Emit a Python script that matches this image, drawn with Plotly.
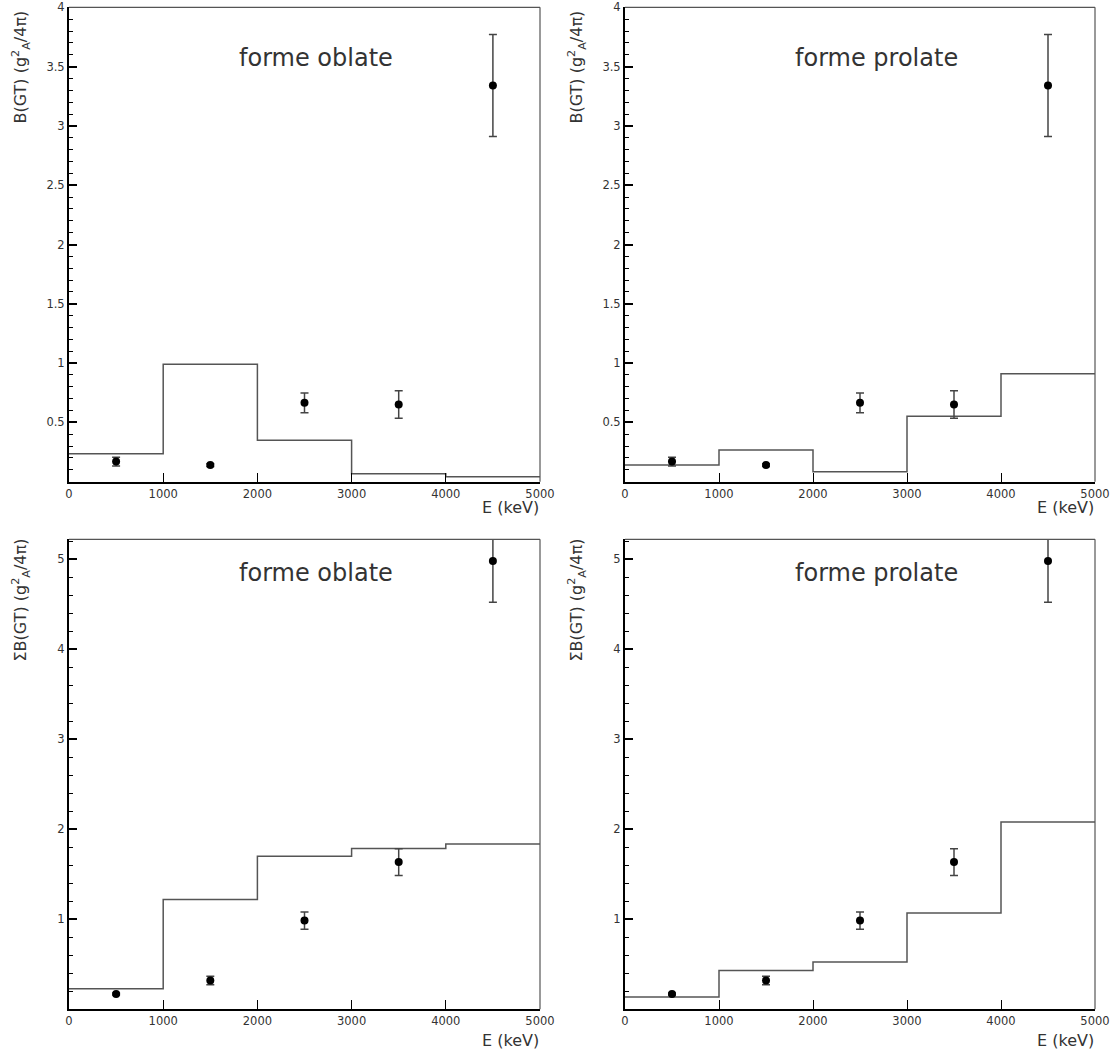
import plotly.graph_objects as go

# ---------------- data ----------------
bin_edges = [0, 1000, 2000, 3000, 4000, 5000]
e_points = [500, 1500, 2500, 3500, 4500]

# B(GT) experimental
bgt_exp = [0.17, 0.14, 0.665, 0.65, 3.34]
bgt_err = [0.037, 0.012, 0.083, 0.116, 0.43]
# Sum B(GT) experimental
sbgt_exp = [0.17, 0.32, 0.985, 1.635, 4.98]
sbgt_err = [0.012, 0.048, 0.095, 0.148, 0.46]

# theory histograms (per bin)
bgt_oblate = [0.235, 0.99, 0.35, 0.068, 0.042]
bgt_prolate = [0.14, 0.267, 0.084, 0.552, 0.91]
sbgt_oblate = [0.229, 1.22, 1.70, 1.785, 1.837]
sbgt_prolate = [0.137, 0.43, 0.526, 1.07, 2.08]

titles = ["forme oblate", "forme prolate", "forme oblate", "forme prolate"]
ytitles = ["B(GT) (g<sup>2</sup><sub>A</sub>/4π)", "B(GT) (g<sup>2</sup><sub>A</sub>/4π)",
           "ΣB(GT) (g<sup>2</sup><sub>A</sub>/4π)", "ΣB(GT) (g<sup>2</sup><sub>A</sub>/4π)"]
x_ticks = [0, 1000, 2000, 3000, 4000, 5000]
y_ticks_top = [0.5, 1, 1.5, 2, 2.5, 3, 3.5, 4]
y_ticks_bot = [1, 2, 3, 4, 5]

# ---------------- layout geometry ----------------
W, H = 1114, 1053
FONT = "DejaVu Sans"
TXT = "#333333"

def px_x(p):
    return p / W

def px_y(p):
    return 1 - p / H

xdoms = [[px_x(69), px_x(540)], [px_x(625), px_x(1095)]]
ydoms = [[px_y(481.7), px_y(7.3)], [px_y(1009.3), px_y(539.3)]]

panels = [
    dict(col=0, row=0, hist=bgt_oblate, pts=bgt_exp, err=bgt_err, yr=[0, 4], yt=y_ticks_top, minor=0.1),
    dict(col=1, row=0, hist=bgt_prolate, pts=bgt_exp, err=bgt_err, yr=[0, 4], yt=y_ticks_top, minor=0.1),
    dict(col=0, row=1, hist=sbgt_oblate, pts=sbgt_exp, err=sbgt_err, yr=[0, 5.22], yt=y_ticks_bot, minor=0.2),
    dict(col=1, row=1, hist=sbgt_prolate, pts=sbgt_exp, err=sbgt_err, yr=[0, 5.22], yt=y_ticks_bot, minor=0.2),
]

fig = go.Figure()
layout = dict(
    width=W, height=H,
    margin=dict(l=0, r=0, t=0, b=0, autoexpand=False),
    paper_bgcolor="white", plot_bgcolor="white",
    showlegend=False,
    font=dict(family=FONT, color=TXT, size=11),
)
annotations = []
shapes = []

for i, p in enumerate(panels):
    n = i + 1
    xa = "x" if n == 1 else f"x{n}"
    ya = "y" if n == 1 else f"y{n}"
    xkey = "xaxis" if n == 1 else f"xaxis{n}"
    ykey = "yaxis" if n == 1 else f"yaxis{n}"

    hy = list(p["hist"]) + [p["hist"][-1]]
    fig.add_trace(go.Scatter(
        x=bin_edges, y=hy, mode="lines", line=dict(shape="hv", color="#555555", width=1.5),
        xaxis=xa, yaxis=ya, cliponaxis=True, hoverinfo="skip"))
    fig.add_trace(go.Scatter(
        x=e_points, y=p["pts"], mode="markers",
        marker=dict(color="black", size=8, symbol="circle"),
        error_y=dict(type="data", array=p["err"], visible=True, color="#444444", thickness=1.5, width=4),
        xaxis=xa, yaxis=ya, cliponaxis=True))

    layout[xkey] = dict(
        domain=xdoms[p["col"]], anchor=ya, range=[0, 5000], automargin=False,
        tickmode="array", tickvals=x_ticks, ticktext=[str(v) for v in x_ticks],
        ticks="inside", ticklen=9, tickwidth=1, tickcolor="black",
        showline=True, linecolor="black", linewidth=2, mirror=False,
        showgrid=False, zeroline=False,
        tickfont=dict(family=FONT, size=11.5, color=TXT),
    )
    layout[ykey] = dict(
        domain=ydoms[p["row"]], anchor=xa, range=p["yr"], automargin=False,
        tickmode="array", tickvals=p["yt"], ticktext=[f"{v:g}" for v in p["yt"]],
        ticks="inside", ticklen=8, tickwidth=1.5, tickcolor="black",
        minor=dict(tickmode="linear", tick0=0, dtick=p["minor"], ticks="inside", ticklen=4,
                   tickcolor="black", tickwidth=1, showgrid=False),
        showline=True, linecolor="black", linewidth=2, mirror=False,
        showgrid=False, zeroline=False,
        tickfont=dict(family=FONT, size=11.5, color=TXT),
    )
    # top / right frame
    shapes.append(dict(type="line", xref=f"{xa} domain", yref=f"{ya} domain",
                       x0=0, x1=1, y0=1, y1=1, line=dict(color="#555555", width=1.2)))
    shapes.append(dict(type="line", xref=f"{xa} domain", yref=f"{ya} domain",
                       x0=1, x1=1, y0=0, y1=1, line=dict(color="#555555", width=1.2)))

    # panel title
    tx = [px_x(316), px_x(876)][p["col"]]
    ty = [px_y(58), px_y(573)][p["row"]]
    annotations.append(dict(text=titles[i], x=tx, y=ty, xref="paper", yref="paper",
                            showarrow=False, xanchor="center", yanchor="middle",
                            font=dict(family=FONT, size=24, color="#333333")))
    # y-axis title
    yx = [px_x(21), px_x(577)][p["col"]]
    yy = [px_y(9), px_y(537)][p["row"]]
    annotations.append(dict(text=ytitles[i], x=yx, y=yy, xref="paper", yref="paper",
                            showarrow=False, textangle=-90, xanchor="center", yanchor="top",
                            font=dict(family=FONT, size=16, color="#333333")))
    # x-axis title
    ex = [px_x(541), px_x(1096)][p["col"]]
    ey = [px_y(508), px_y(1040)][p["row"]]
    annotations.append(dict(text="E (keV)", x=ex, y=ey, xref="paper", yref="paper",
                            showarrow=False, xanchor="right", yanchor="middle",
                            font=dict(family=FONT, size=16, color="#333333")))

layout["annotations"] = annotations
layout["shapes"] = shapes
fig.update_layout(**layout)
fig.write_html("out.html", config={"displayModeBar": False},
               post_script="document.body.style.margin='0';document.body.style.overflow='hidden';")
